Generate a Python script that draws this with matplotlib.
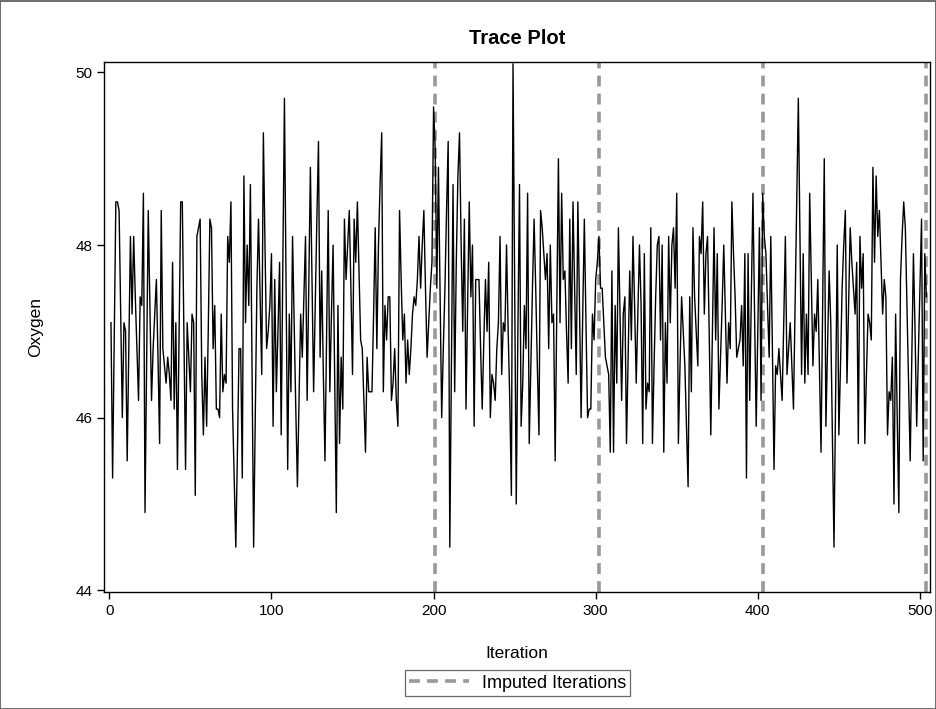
import matplotlib
matplotlib.use("Agg")
import matplotlib.pyplot as plt
import numpy as np
from matplotlib.lines import Line2D
from matplotlib.patches import Rectangle

plt.rcParams['font.family'] = ['Liberation Sans', 'DejaVu Sans']

# oxygen value at each iteration (iterations 1..504)
oxygen = [
    47.1, 45.3, 46.9, 48.5, 48.5, 48.4, 47.2, 46.0, 47.1, 47.0,
    45.5, 46.8, 48.1, 47.2, 48.1, 47.4, 46.8, 46.2, 47.4, 47.3,
    48.6, 44.9, 46.6, 48.4, 47.3, 46.2, 46.8, 47.2, 47.6, 46.7,
    45.7, 48.4, 46.8, 46.6, 46.4, 46.7, 46.5, 46.2, 47.8, 46.1,
    47.1, 45.4, 47.0, 48.5, 48.5, 47.0, 45.4, 47.1, 46.7, 46.3,
    47.2, 47.1, 45.1, 48.1, 48.2, 48.3, 46.5, 45.8, 46.7, 45.9,
    47.0, 48.3, 48.2, 46.8, 47.3, 46.1, 46.1, 46.0, 47.2, 46.3,
    46.5, 46.4, 48.1, 47.8, 48.5, 46.1, 45.3, 44.5, 45.6, 46.8,
    46.8, 45.3, 48.8, 47.1, 48.0, 47.3, 48.7, 46.6, 44.5, 46.0,
    47.5, 48.3, 47.4, 46.5, 49.3, 48.0, 46.8, 47.0, 47.3, 47.9,
    45.9, 47.6, 46.3, 47.0, 47.8, 45.8, 47.8, 49.7, 47.5, 45.4,
    47.2, 46.3, 48.1, 47.1, 46.1, 45.2, 46.2, 47.2, 46.7, 47.4,
    48.1, 46.2, 47.5, 48.9, 47.6, 46.3, 47.3, 48.3, 49.2, 46.7,
    47.7, 46.5, 45.5, 47.0, 48.4, 46.3, 47.2, 48.0, 46.4, 44.9,
    47.3, 45.7, 46.7, 46.1, 48.3, 47.6, 48.0, 48.4, 47.5, 46.5,
    48.3, 47.8, 48.5, 47.7, 46.9, 46.8, 46.2, 45.6, 46.7, 46.3,
    46.3, 46.3, 47.2, 48.2, 46.8, 48.0, 48.7, 49.3, 46.3, 47.3,
    46.9, 47.4, 47.4, 46.2, 46.4, 46.8, 46.2, 45.9, 48.4, 47.6,
    46.9, 47.2, 46.4, 46.9, 46.5, 46.8, 47.2, 47.4, 47.3, 47.6,
    48.1, 47.5, 48.0, 48.4, 47.5, 46.7, 47.1, 47.5, 47.8, 49.6,
    49.1, 47.5, 48.9, 47.4, 46.0, 46.8, 47.5, 48.4, 49.2, 44.5,
    46.6, 48.7, 46.3, 47.8, 48.8, 49.3, 48.0, 47.0, 48.3, 46.1,
    47.3, 48.5, 47.4, 48.0, 45.9, 47.6, 47.6, 47.6, 46.8, 46.1,
    46.9, 47.6, 47.0, 47.8, 46.0, 46.5, 46.4, 46.2, 46.8, 47.1,
    48.1, 46.5, 47.1, 47.0, 48.0, 47.0, 46.2, 45.1, 50.1, 47.6,
    45.0, 47.0, 48.7, 45.9, 46.4, 47.3, 46.8, 48.6, 45.7, 46.6,
    47.5, 48.3, 47.5, 46.6, 45.8, 48.4, 48.2, 47.9, 47.6, 47.9,
    46.8, 48.0, 47.1, 47.2, 45.5, 47.2, 49.0, 47.1, 48.6, 47.6,
    47.7, 47.0, 46.4, 48.3, 46.8, 48.5, 47.5, 46.5, 48.5, 47.3,
    46.0, 47.2, 48.3, 47.1, 46.0, 46.1, 46.1, 47.2, 46.9, 47.6,
    47.8, 48.1, 47.5, 47.5, 47.1, 46.7, 46.6, 46.5, 45.6, 47.7,
    45.6, 47.3, 46.4, 48.2, 47.2, 46.2, 47.2, 47.4, 45.7, 46.7,
    47.7, 46.9, 48.1, 47.3, 46.4, 47.2, 48.0, 47.3, 45.7, 47.9,
    46.1, 46.4, 46.3, 48.2, 45.7, 46.6, 47.4, 48.0, 48.1, 46.9,
    48.0, 45.6, 47.1, 46.4, 48.1, 47.1, 48.0, 48.2, 47.5, 48.6,
    45.7, 46.6, 47.4, 47.0, 46.6, 45.9, 45.2, 47.4, 46.3, 48.2,
    47.4, 47.0, 46.6, 48.1, 47.9, 48.5, 47.2, 47.9, 48.1, 47.0,
    45.8, 47.0, 48.2, 46.9, 47.9, 46.1, 46.7, 47.3, 48.0, 47.2,
    46.4, 47.1, 46.8, 48.5, 47.9, 47.4, 46.7, 46.8, 46.9, 47.3,
    46.6, 47.9, 45.3, 47.9, 46.2, 47.4, 48.6, 47.2, 45.9, 47.0,
    48.2, 46.2, 48.6, 48.1, 47.9, 47.3, 46.7, 48.1, 46.8, 45.4,
    46.6, 46.5, 46.8, 46.5, 46.2, 47.1, 48.1, 46.5, 46.8, 47.1,
    46.6, 46.1, 47.3, 48.5, 49.7, 48.1, 46.5, 47.9, 46.4, 47.2,
    46.5, 48.6, 47.6, 46.6, 47.2, 47.0, 47.6, 46.6, 45.6, 47.3,
    49.0, 45.9, 46.8, 47.7, 47.1, 45.8, 44.5, 46.3, 48.0, 45.8,
    46.6, 47.5, 48.0, 48.4, 46.4, 47.3, 48.2, 47.8, 47.5, 47.2,
    47.8, 45.7, 48.1, 47.5, 47.9, 45.7, 46.5, 47.2, 47.1, 46.9,
    48.9, 47.8, 48.8, 48.1, 48.4, 47.8, 47.2, 47.6, 47.4, 45.8,
    46.3, 46.2, 46.7, 45.0, 47.2, 46.0, 44.9, 47.6, 48.1, 48.5,
    48.2, 47.3, 46.4, 45.5, 46.7, 47.9, 47.0, 45.9, 46.7, 47.5,
    48.3, 45.5, 47.9, 47.4,
]
iteration = np.arange(1, len(oxygen) + 1)

imputed = [201, 302, 403, 504]

xticks = [0, 100, 200, 300, 400, 500]
yticks = [44, 46, 48, 50]

fig = plt.figure(figsize=(9.37, 7.09), dpi=100)
ax = fig.add_axes([0.111, 0.165, 0.8815, 0.7475])

dash = (0, (3.0, 2.0))
for it in imputed:
    ax.axvline(it, color='#999999', lw=2.6, ls=dash, zorder=1)
ax.plot(iteration, oxygen, color='black', lw=1.0, zorder=2)

ax.set_xlim(-3.3, 506.2)
ax.set_ylim(43.98, 50.12)
ax.set_xticks(xticks)
ax.set_yticks(yticks)
ax.tick_params(labelsize=11, length=5, width=1, colors='black')
for s in ax.spines.values():
    s.set_linewidth(1.0)

ax.set_xlabel('Iteration', fontsize=12.5, labelpad=20)
ax.set_ylabel('Oxygen', fontsize=12.5, labelpad=23)
ax.set_title('Trace Plot', fontsize=14.5, fontweight='bold', pad=13)

handle = Line2D([], [], color='#999999', lw=2.6, ls=dash)
leg = fig.legend([handle], ['Imputed Iterations'], loc='center',
                 bbox_to_anchor=(0.5525, 0.0365), fontsize=13,
                 frameon=True, fancybox=False, edgecolor='#444444',
                 handlelength=3.3, borderpad=0.25, handletextpad=0.7)
leg.get_frame().set_linewidth(0.9)

fig.patches.append(Rectangle((0.0, 0.0), 0.999, 0.998, transform=fig.transFigure,
                             fill=False, edgecolor='#555555', lw=1.2))

fig.savefig('out.png', dpi=100)
